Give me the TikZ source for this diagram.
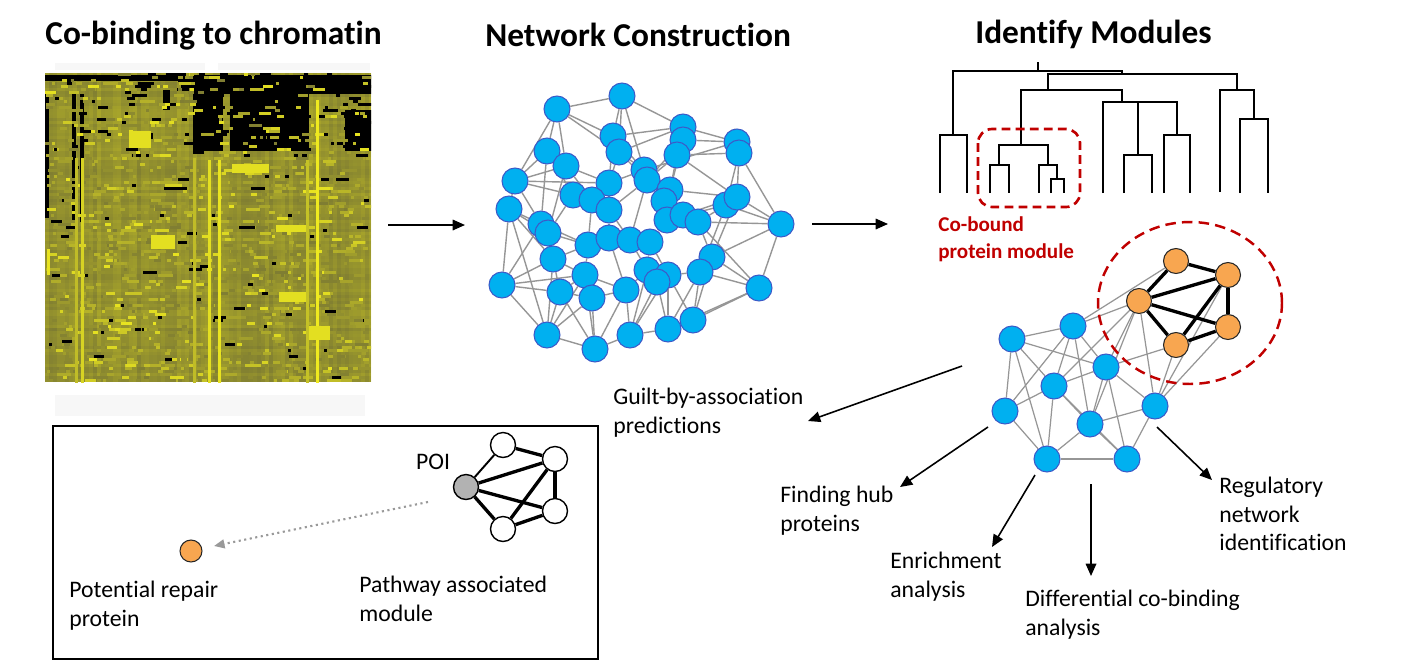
\documentclass[tikz,border=0pt]{standalone}
\usepackage{fontspec}
\setmainfont{Carlito}[Ligatures=NoCommon]
\usetikzlibrary{positioning, arrows.meta, calc, backgrounds}

\definecolor{netblue}{RGB}{0,176,240}
\definecolor{netrim}{RGB}{60,90,200}
\definecolor{modorange}{RGB}{248,166,80}
\definecolor{modred}{RGB}{192,0,0}
\definecolor{edgegray}{RGB}{150,150,150}
\definecolor{hmyel}{RGB}{245,240,30}
\definecolor{hmbase}{RGB}{126,124,50}

\begin{document}
\begin{tikzpicture}[
    x=0.02cm, y=-0.02cm,
    >={Triangle[length=7pt,width=6pt]},
    protein/.style={
        circle, draw=netrim, fill=netblue, line width=0.6pt,
        minimum size=0.52cm, inner sep=0pt
    },
    member/.style={
        circle, draw=black!85, fill=modorange, line width=0.6pt,
        minimum size=0.5cm, inner sep=0pt
    },
    hollow/.style={
        circle, draw=black, fill=white, line width=0.8pt,
        minimum size=0.5cm, inner sep=0pt
    },
    link/.style={edgegray, line width=0.8pt},
    bond/.style={black, line width=1.9pt},
    tree/.style={black, line width=1.1pt},
    arr/.style={black, line width=0.9pt, ->},
    heading/.style={anchor=base west, inner sep=0pt,
        font=\fontsize{19}{22}\selectfont\bfseries},
    desc/.style={anchor=north west, inner sep=0pt, align=left,
        font=\fontsize{13.5}{16.2}\selectfont},
    redlabel/.style={anchor=north west, inner sep=0pt, align=left,
        text=modred, font=\fontsize{12}{15.4}\selectfont\bfseries},
]
\useasboundingbox (0,0) rectangle (1406,660);

% Panel titles
\node[heading] (heat_title) at (45,44) {Co-binding to chromatin};
\node[heading] (net_title) at (485,46) {Network Construction};
\node[heading] (mod_title) at (975,43) {Identify Modules};

% Heatmap of co-binding
\fill[black!3] (55,63) rectangle (205,70);
\fill[black!3] (218,63) rectangle (370,70);
\fill[black!3] (55,395) rectangle (365,416);
\begin{scope}
\clip (45,73) rectangle (371,382);
\pgfmathsetseed{1234}
\fill[hmbase] (45,73) rectangle (371,382);
% row bands
\foreach \r in {0,...,102}{
    \pgfmathtruncatemacro\hp{72+rnd*28}
    \fill[hmbase!\hp!hmyel] (45,73+3*\r) rectangle (371,76+3*\r);
}
% column bands
\foreach \c in {0,...,81}{
    \pgfmathtruncatemacro\hp{55+rnd*45}
    \fill[hmbase!\hp!hmyel, opacity=0.45] (45+4*\c,73) rectangle ++(4,309);
}
% dark blocks in the upper part
\foreach \bx/\by/\bw/\bh in {193/75/180/19, 45/75/140/6, 230/80/79/71,
    193/94/30/57, 345/110/28/41, 45/94/4/124, 72/94/4/128, 80/94/4/128,
    163/90/7/20}{
    \fill[black] (\bx,\by) rectangle ++(\bw,\bh);
}
% scattered cells
\foreach \k in {1,...,1500}{
    \pgfmathsetmacro\hy{73+3*int(rnd*103)}
    \pgfmathsetmacro\hx{45+rnd*322}
    \pgfmathsetmacro\hw{3+rnd*rnd*16}
    \pgfmathsetmacro\hr{rnd}
    \pgfmathsetmacro\ht{\hy<155 ? (\hx>190 ? 0.55 : 0.3) : 0.05}
    \pgfmathtruncatemacro\hp{\hr<\ht ? 100 : (\hr<\ht+0.2 ? 10+rnd*35 : 50+rnd*50)}
    \ifnum\hp=100
        \fill[black] (\hx,\hy) rectangle ++(\hw,3);
    \else
        \fill[hmbase!\hp!hmyel] (\hx,\hy) rectangle ++(\hw,3);
    \fi
}
% bright stripes and patches
\foreach \cx/\ya/\yb/\cp in {47/249/275/10, 75/158/383/45, 81/158/383/25,
    193/158/383/45, 208/160/383/15, 218/160/383/10, 306/160/383/40,
    316/100/383/5}{
    \fill[hmbase!\cp!hmyel] (\cx,\ya) rectangle ++(3,\yb-\ya);
}
\foreach \px/\py/\pw/\ph in {129/131/22/17, 276/225/30/7, 279/292/27/10,
    309/326/21/14, 151/235/24/14, 232/164/37/9}{
    \fill[hmbase!15!hmyel] (\px,\py) rectangle ++(\pw,\ph);
}
\end{scope}

% Constructed network
\foreach \i/\x/\y in {1/622/96, 2/557/109, 3/683/127, 4/613/136, 5/683/140,
    6/677/155, 7/737/142, 8/739/153, 9/619/152, 10/547/151, 11/566/166,
    12/515/181, 13/644/170, 14/647/180, 15/609/183, 16/670/190, 17/664/201,
    18/573/195, 19/592/200, 20/609/210, 21/726/205, 22/737/197, 23/509/209,
    24/541/224, 25/548/233, 26/667/220, 27/683/215, 28/698/222, 29/781/224,
    30/588/245, 31/609/238, 32/630/240, 33/650/242, 34/553/259, 35/712/257,
    36/700/272, 37/585/275, 38/647/270, 39/668/275, 40/657/282, 41/502/285,
    42/560/292, 43/592/298, 44/626/290, 45/759/288, 46/547/335, 47/595/349,
    48/630/335, 49/668/329, 50/693/320}{
    \node[protein] (n\i) at (\x,\y) {};
}
\begin{pgfonlayer}{background}
\foreach \a/\b in {2/1, 1/3, 3/7, 7/8, 8/29, 29/45, 45/50, 50/49, 49/48,
    48/47, 47/46, 46/41, 41/23, 23/12, 12/10, 10/2, 2/4, 2/11, 2/9, 10/11,
    10/18, 10/24, 12/18, 12/24, 12/15, 23/24, 23/34, 23/46, 41/34, 41/42,
    46/42, 46/43, 46/37, 47/42, 47/43, 47/44, 48/44, 48/38, 48/40, 49/40,
    49/36, 49/45, 50/36, 50/35, 45/35, 45/28, 29/21, 29/35, 29/28, 8/22,
    8/21, 8/6, 7/5, 7/13, 3/4, 3/9, 4/15, 4/13, 9/13, 9/14, 6/14, 6/16,
    5/16, 11/15, 11/19, 11/25, 15/20, 15/13, 18/19, 18/25, 19/20, 19/30,
    20/14, 20/31, 14/17, 16/17, 16/22, 17/27, 17/26, 21/28, 22/27, 21/26,
    24/25, 25/30, 25/34, 30/31, 31/32, 32/33, 33/26, 26/27, 27/28, 28/35,
    30/37, 30/34, 31/44, 32/38, 33/39, 33/38, 34/42, 37/42, 37/43, 37/44,
    43/44, 44/38, 38/40, 39/40, 39/36, 36/35, 42/43, 34/37, 24/30, 20/32,
    13/17, 14/32, 16/26, 22/35, 21/36, 9/15, 5/14, 6/22, 1/4, 1/13, 3/6,
    12/11, 23/25, 41/37, 46/34, 47/37, 48/39, 49/39, 50/39, 45/36, 29/22,
    1/9, 2/12, 41/24}{
    \draw[link] (n\a) -- (n\b);
}
\end{pgfonlayer}

% Dendrogram with highlighted subtree
\draw[tree] (1038,62) -- (1038,71);
\draw[tree] (953,135) |- (1122,71) -- (1122,74);
\draw[tree] (1048,90) |- (1237,74) -- (1237,90);
\draw[tree] (1021,145) |- (1122,90) -- (1122,102);
\draw[tree] (999,165) |- (1048,145) -- (1048,165);
\draw[tree] (1039,193) |- (1057,165) -- (1057,179);
\draw[tree] (1103,193) |- (1177,102) -- (1177,135);
\draw[tree] (1138,102) -- (1138,155);
\draw[tree] (1220,192) |- (1254,90) -- (1254,119);
\foreach \a/\b/\top in {940/967/135, 990/1009/165, 1051/1064/179,
    1124/1152/155, 1164/1190/135, 1240/1268/119}{
    \draw[tree] (\a,193) |- (\b,\top) -- (\b,193);
}
\draw[modred, line width=1.5pt, dash pattern=on 5pt off 3pt,
    rounded corners=8pt] (978,129) rectangle (1080,207);
\node[redlabel] (cobound) at (938,216) {Co-bound\\protein module};

% Module within the network
\node[member] (m1) at (1176,261) {};
\node[member] (m2) at (1228,275) {};
\node[member] (m3) at (1139,301) {};
\node[member] (m4) at (1228,327) {};
\node[member] (m5) at (1176,345) {};
\foreach \i/\x/\y in {1/1012/339, 2/1073/326, 3/1106/367, 4/1054/386,
    5/1005/411, 6/1090/424, 7/1155/406, 8/1047/459, 9/1127/459}{
    \node[protein] (b\i) at (\x,\y) {};
}
\begin{pgfonlayer}{background}
\foreach \a/\b in {b1/b2, b1/b3, b1/b4, b1/b5, b1/b8, b2/b3, b2/b4, b2/b5,
    b2/b6, b2/m1, b2/m3, b3/m3, b3/m5, b3/b4, b3/b6, b3/b7, b3/b9, b4/m3,
    b4/b5, b4/b6, b4/b8, b4/b9, b5/b8, b6/b8, b6/b9, b6/b7, b6/m3, b7/m3,
    b7/m5, b7/m2, b7/m4, b7/b9, b8/b9}{
    \draw[link, line width=0.7pt] (\a) -- (\b);
}
\foreach \a/\b in {m1/m2, m1/m3, m2/m3, m3/m4, m3/m5, m2/m4, m2/m5, m4/m5}{
    \draw[bond] (\a) -- (\b);
}
\end{pgfonlayer}
\draw[modred, line width=1.4pt, dash pattern=on 6pt off 3.5pt]
    (1190,303) ellipse [x radius=1.84cm, y radius=1.62cm];

% Flow arrows between panels
\coordinate (heat_out) at (388,225);
\coordinate (net_in) at (465,225);
\coordinate (net_out) at (812,224);
\coordinate (mod_in) at (888,224);
\draw[arr] (heat_out) -- (net_in);
\draw[arr] (net_out) -- (mod_in);

% Downstream analyses
\node[desc] (gba) at (613,388) {Guilt-by-association\\predictions};
\node[desc] (hubs) at (780,486) {Finding hub\\proteins};
\node[desc] (enrich) at (890,552) {Enrichment\\analysis};
\node[desc] (diffbind) at (1025,590) {Differential co-binding\\analysis};
\node[desc] (regnet) at (1219,477) {Regulatory\\network\\identification};

\coordinate (gba_from) at (962,366);
\coordinate (gba_to) at (808,421);
\coordinate (hubs_from) at (988,427);
\coordinate (hubs_to) at (900,487);
\coordinate (enrich_from) at (1035,475);
\coordinate (enrich_to) at (992,547);
\coordinate (diff_from) at (1091,484);
\coordinate (diff_to) at (1091,576);
\coordinate (reg_from) at (1157,427);
\coordinate (reg_to) at (1212,480);
\draw[arr] (gba_from) -- (gba_to);
\draw[arr] (hubs_from) -- (hubs_to);
\draw[arr] (enrich_from) -- (enrich_to);
\draw[arr] (diff_from) -- (diff_to);
\draw[arr] (reg_from) -- (reg_to);

% Inset: guilt-by-association example
\draw[black, line width=1.1pt] (53,426) rectangle (598,659);
\node[hollow, fill=black!30] (poi) at (466,487) {};
\node[hollow] (pw1) at (503,445) {};
\node[hollow] (pw2) at (555,459) {};
\node[hollow] (pw3) at (555,511) {};
\node[hollow] (pw4) at (503,529) {};
\begin{pgfonlayer}{background}
\draw[black, line width=1.1pt] (poi) -- (pw1);
\foreach \a/\b in {poi/pw2, poi/pw3, poi/pw4, pw1/pw2, pw2/pw3, pw2/pw4, pw3/pw4}{
    \draw[bond] (\a) -- (\b);
}
\end{pgfonlayer}
\node[font=\fontsize{13.5}{16.2}\selectfont] (poi_lbl) at (433,462) {POI};
\node[member, minimum size=0.44cm] (cand) at (191,551) {};
\coordinate (guess_from) at (428,502);
\coordinate (guess_to) at (214,546);
\draw[black!40, line width=1.2pt, dotted, -{Triangle[length=6pt,width=5pt]}]
    (guess_from) -- (guess_to);
\node[desc] (repair_lbl) at (69,581) {Potential repair\\protein};
\node[desc] (pathway_lbl) at (359,576) {Pathway associated\\module};

\end{tikzpicture}
\end{document}
